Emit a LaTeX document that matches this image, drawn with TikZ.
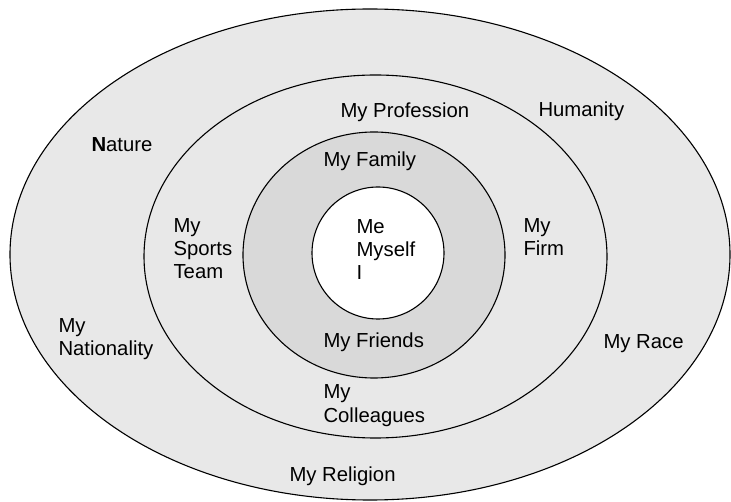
\documentclass[tikz,border=0pt]{standalone}
\usepackage{fontspec}
\setmainfont{Liberation Sans}
\usepackage{tikz}

\begin{document}
\begin{tikzpicture}[x=1pt, y=-1pt, line width=1.1pt,
	ring/.style = {draw=black, fill=#1},
	lbl/.style = {anchor=base west, inner sep=0pt, align=left, font=\fontsize{20.3}{23.3}\selectfont}]
	\useasboundingbox (0,0) rectangle (731,502);
	% rings, outermost first
	\draw[ring=black!9] (370,254.5) ellipse [x radius=360, y radius=245.5];
	\draw[ring=black!9] (375.5,256.5) ellipse [x radius=231.5, y radius=181.5];
	\draw[ring=black!15] (374,255) ellipse [x radius=131, y radius=123];
	\draw[ring=white] (378,253) ellipse [x radius=66, y radius=66];
	% labels (base is the last line)
	\node[lbl] (me) at (356,280) {Me\\Myself\\I};
	\node[lbl] (family) at (323,167) {My Family};
	\node[lbl] (friends) at (323,348) {My Friends};
	\node[lbl] (profession) at (340,118) {My Profession};
	\node[lbl] (sports) at (173,279) {My\\Sports\\Team};
	\node[lbl] (firm) at (523,256) {My\\Firm};
	\node[lbl] (colleagues) at (323,422) {My\\Colleagues};
	\node[lbl] (nature) at (91,152) {\textbf{N}ature};
	\node[lbl] (humanity) at (538,117) {Humanity};
	\node[lbl] (nationality) at (58,356) {My\\Nationality};
	\node[lbl] (race) at (603,349) {My Race};
	\node[lbl] (religion) at (289,481) {My Religion};
\end{tikzpicture}
\end{document}
